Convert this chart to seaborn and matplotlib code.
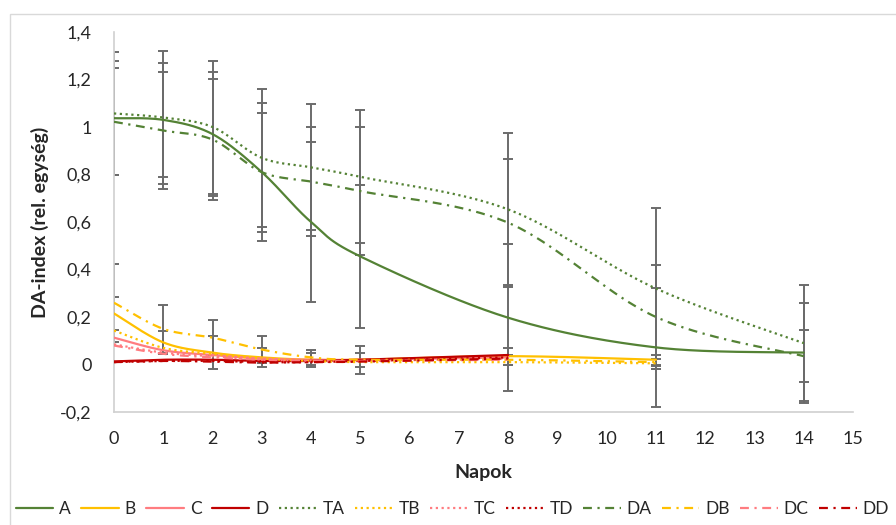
import numpy as np
import pandas as pd
import matplotlib
matplotlib.use("Agg")
import matplotlib.pyplot as plt
import seaborn as sns
from matplotlib.ticker import FuncFormatter
from matplotlib.patches import Rectangle

# ---------------- data ----------------
days_long = [0, 1, 2, 3, 4, 5, 8, 11, 14]
days_mid = [0, 1, 2, 3, 4, 5, 8, 11]
days_short = [0, 1, 2, 3, 4, 5, 8]

A = [1.037, 1.03, 0.97, 0.81, 0.60, 0.455, 0.197, 0.072, 0.05]
TA = [1.057, 1.04, 1.00, 0.87, 0.83, 0.79, 0.653, 0.32, 0.09]
DA = [1.022, 0.985, 0.947, 0.81, 0.77, 0.73, 0.597, 0.20, 0.035]

B = [0.215, 0.093, 0.05, 0.03, 0.02, 0.02, 0.035, 0.02]
TB = [0.143, 0.07, 0.045, 0.025, 0.015, 0.01, 0.01, 0.005]
DB = [0.26, 0.15, 0.113, 0.063, 0.03, 0.02, 0.02, 0.01]

C = [0.113, 0.06, 0.04, 0.025, 0.02, 0.02, 0.03]
TC = [0.085, 0.05, 0.035, 0.02, 0.015, 0.015, 0.025]
DC = [0.08, 0.045, 0.03, 0.02, 0.015, 0.015, 0.02]

D = [0.013, 0.02, 0.02, 0.015, 0.015, 0.02, 0.04]
TD = [0.01, 0.015, 0.015, 0.01, 0.01, 0.015, 0.03]
DD = [0.01, 0.015, 0.012, 0.008, 0.01, 0.012, 0.025]

A_err = [0.24, 0.24, 0.26, 0.29, 0.335, 0.30, 0.31, 0.25, 0.21]
TA_err = [0.26, 0.28, 0.28, 0.29, 0.265, 0.28, 0.32, 0.34, 0.245]
DA_err = [0.225, 0.245, 0.255, 0.25, 0.23, 0.27, 0.27, 0.22, 0.11]
B_err = [0.07, 0.05, 0.07, 0.04, 0.03, 0.03, 0.035, 0.02]
DB_err = [0.165, 0.10, 0.075, 0.055, 0.03, 0.06, 0.02, 0.015]

x_ticks = list(range(0, 16))
y_ticks = [-0.2, 0.0, 0.2, 0.4, 0.6, 0.8, 1.0, 1.2, 1.4]
x_label = "Napok"
y_label = "DA-index (rel. egység)"

# ---------------- style ----------------
GREEN = "#548235"
YELLOW = "#FFC000"
PINK = "#FF7C80"
RED = "#C00000"
SOLID = "-"
DOT = (0, (1, 1.6))
DASHDOT = (0, (4, 2.5, 1, 2.5))

series = [
    ("A", days_long, A, GREEN, SOLID),
    ("B", days_mid, B, YELLOW, SOLID),
    ("C", days_short, C, PINK, SOLID),
    ("D", days_short, D, RED, SOLID),
    ("TA", days_long, TA, GREEN, DOT),
    ("TB", days_mid, TB, YELLOW, DOT),
    ("TC", days_short, TC, PINK, DOT),
    ("TD", days_short, TD, RED, DOT),
    ("DA", days_long, DA, GREEN, DASHDOT),
    ("DB", days_mid, DB, YELLOW, DASHDOT),
    ("DC", days_short, DC, PINK, DASHDOT),
    ("DD", days_short, DD, RED, DASHDOT),
]
errors = [
    (days_long, A, A_err), (days_long, TA, TA_err), (days_long, DA, DA_err),
    (days_mid, B, B_err), (days_mid, DB, DB_err),
]


def smooth(x, y, n=40):
    """Render a smoothed (Bezier) path through the data points, like a spreadsheet 'smoothed line'."""
    P = np.column_stack([np.asarray(x, float), np.asarray(y, float)])
    out = []
    for i in range(len(P) - 1):
        p0 = P[i - 1] if i > 0 else P[i]
        p1, p2 = P[i], P[i + 1]
        p3 = P[i + 2] if i + 2 < len(P) else P[i + 1]
        c1 = p1 + (p2 - p0) / 6.0
        c2 = p2 - (p3 - p1) / 6.0
        t = np.linspace(0, 1, n)[:, None]
        seg = (1 - t) ** 3 * p1 + 3 * (1 - t) ** 2 * t * c1 + 3 * (1 - t) * t ** 2 * c2 + t ** 3 * p2
        out.append(seg if i == 0 else seg[1:])
    return np.vstack(out)


sns.set_theme(style="white")
plt.rcParams["font.family"] = ["Lato", "DejaVu Sans"]

fig = plt.figure(figsize=(8.96, 5.25), dpi=100)
ax = fig.add_axes([114 / 896, 1 - 412 / 525, (853 - 114) / 896, (412 - 32) / 525])

# error bars
for xs, ys, es in errors:
    ax.errorbar(xs, ys, yerr=es, fmt="none", ecolor="#6b6b6b", elinewidth=1.4,
                capsize=3.5, capthick=1.4, zorder=2)

# lines
for name, xs, ys, col, ls in series:
    pts = smooth(xs, ys)
    df = pd.DataFrame({"x": pts[:, 0], "y": pts[:, 1]})
    sns.lineplot(data=df, x="x", y="y", ax=ax, color=col, linewidth=1.6,
                 linestyle=ls, sort=False, estimator=None, label=name, zorder=3)

ax.set_xlim(0, 15)
ax.set_ylim(-0.2, 1.4)
ax.set_xticks(x_ticks)
ax.set_yticks(y_ticks)


def fmt(v, _):
    s = ("%.1f" % v).rstrip("0").rstrip(".")
    if s == "-0":
        s = "0"
    return s.replace(".", ",")


ax.yaxis.set_major_formatter(FuncFormatter(fmt))
ax.tick_params(axis="both", length=0, labelsize=13, colors="#262626")
ax.tick_params(axis="y", pad=16)
ax.tick_params(axis="x", pad=14)
for s in ["top", "right"]:
    ax.spines[s].set_visible(False)
for s in ["left", "bottom"]:
    ax.spines[s].set_color("#d0d0d0")
    ax.spines[s].set_linewidth(1.2)

ax.set_xlabel(x_label, fontsize=14, fontweight="bold", color="#262626", labelpad=12)
ax.set_ylabel(y_label, fontsize=14, fontweight="bold", color="#262626", labelpad=8)

handles, labels = ax.get_legend_handles_labels()
ax.get_legend().remove()
fig.legend(handles, labels, loc="lower center", bbox_to_anchor=(0.505, -0.005), ncol=12,
           frameon=False, fontsize=12.5, handlelength=2.15, handletextpad=0.35,
           columnspacing=0.6, borderaxespad=0.2)

fig.patches.append(Rectangle((10 / 896, -0.02), 1.02, 1 - 14 / 525 + 0.02,
                             transform=fig.transFigure, fill=False,
                             edgecolor="#d9d9d9", linewidth=1.0))

fig.savefig("out.png", dpi=100)
